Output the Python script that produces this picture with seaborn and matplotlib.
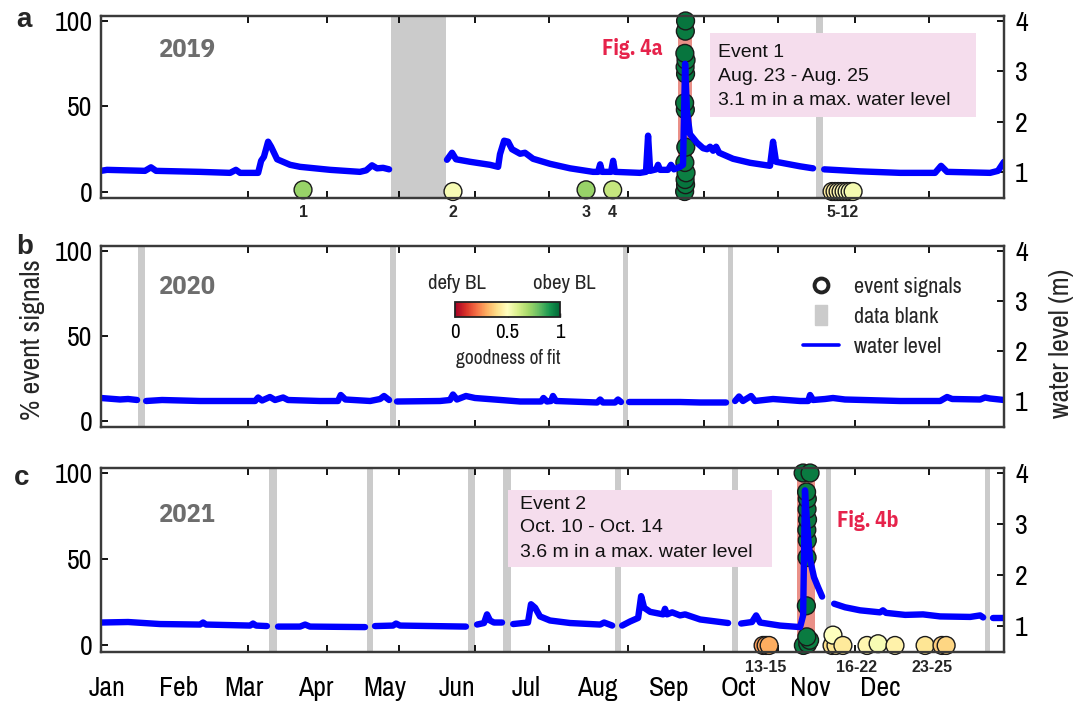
import numpy as np
import pandas as pd
import matplotlib
matplotlib.use("Agg")
import matplotlib.pyplot as plt
import seaborn as sns
from matplotlib.lines import Line2D
from matplotlib.patches import Rectangle
from matplotlib.cm import ScalarMappable
from matplotlib.colors import Normalize
from matplotlib import font_manager as fm
import matplotlib.transforms as mtransforms
import logging

logging.getLogger("matplotlib.font_manager").setLevel(logging.ERROR)
nan = np.nan

# ---------------- data ----------------
months = ["Jan", "Feb", "Mar", "Apr", "May", "Jun", "Jul", "Aug", "Sep", "Oct", "Nov", "Dec"]
month_days = [0, 31, 59, 90, 120, 151, 181, 212, 243, 273, 304, 334]
tick_days = [31, 61, 95, 126, 159, 191, 225, 258, 290, 323, 355]
years = ["2019", "2020", "2021"]

# water level (m); NaN marks a break in the record
wl2019_day = [-2.6, 0, 16.4, 19.0, 21.2, 40.2, 53.2, 55.7, 57.5, 65.3, 66.6, 67.8, 69.6, 70.9, 73.5, 79.1,
              83.4, 96.4, 109.3, 112.0, 114.5, 116.7, 119.3, 121.9, nan,
              146.9, 149.1, 150.8, 156.9, 165.5, 169.0, 169.8, 171.6, 173.3, 175.0, 178.5, 180.6, 184.1,
              191.4, 200.1, 210.0, 212.2, 213.1, 213.9, 217.8, 218.7, 219.5, 230.3, 232.9, 233.8, 234.7,
              237.3, 238.1, 239.0, 242.4, 243.7, 245.0, 247.6, 248.9, 249.8, 250.6, 251.9, 254.9, 257.6,
              259.3, 260.6, 261.9, 263.2, 264.5, 270.5, 277.9, 286.5, 287.8, 289.1, 299.5, 305.1, nan,
              309.9, 325.4, 342.7, 357.8, 360.4, 363.0, 381.6, 385.0, 387.6]
wl2019_m = [1.02, 1.04, 1.02, 1.09, 1.02, 1.0, 0.98, 1.04, 0.98, 0.98, 1.22, 1.3, 1.6, 1.5, 1.25, 1.14,
            1.1, 1.04, 1.0, 1.03, 1.13, 1.07, 1.08, 1.05, nan,
            1.24, 1.38, 1.25, 1.2, 1.14, 1.1, 1.35, 1.62, 1.6, 1.45, 1.36, 1.38, 1.26,
            1.16, 1.07, 1.0, 1.0, 1.15, 1.0, 1.0, 1.22, 1.0, 0.98, 1.0, 1.72, 1.02,
            1.05, 1.14, 1.04, 1.04, 1.14, 1.05, 1.1, 1.14, 3.15, 2.2, 1.75, 1.58, 1.47,
            1.45, 1.5, 1.42, 1.5, 1.38, 1.26, 1.18, 1.12, 1.6, 1.2, 1.11, 1.07, nan,
            1.05, 1.01, 0.98, 0.98, 1.12, 1.0, 0.98, 1.02, 1.2]

wl2020_day = [-2.6, 5.6, 9.1, 13.0, nan,
              16.9, 23.8, 40.2, 64.0, 65.3, 67.0, 70.4, 72.6, 76.1, 78.2, 92.0, 99.8, 101.0, 103.0, 113.7,
              118.0, 119.7, 121.9, nan,
              125.3, 143.9, 148.2, 149.5, 151.2, 155.1, 159.0, 178.5, 187.6, 188.6, 190.1, 191.9, 192.7,
              194.0, 211.8, 213.1, 214.3, 219.5, 220.8, 222.1, nan,
              225.6, 239.0, 247.6, 256.3, 267.5, nan,
              271.4, 273.1, 274.8, 278.3, 280.0, 287.8, 299.5, 303.0, 303.8, 305.1, 310.3, 313.7, 318.9,
              342.7, 360.0, 363.0, 365.2, 377.3, 379.4, 381.6, 387.6]
wl2020_m = [1.06, 1.03, 1.04, 1.02, nan,
            1.0, 1.02, 1.0, 1.0, 1.07, 1.01, 1.08, 1.02, 1.07, 1.02, 1.0, 1.0, 1.12, 1.03, 1.0,
            1.04, 1.1, 1.02, nan,
            0.99, 1.0, 1.02, 1.13, 1.03, 1.1, 1.06, 0.99, 0.99, 1.06, 0.99, 1.0, 1.1,
            1.0, 0.97, 1.03, 0.97, 0.97, 1.03, 0.98, nan,
            0.98, 0.98, 0.98, 0.97, 0.97, nan,
            1.0, 1.09, 1.0, 1.1, 1.0, 1.04, 1.0, 1.0, 1.12, 1.02, 1.04, 1.06, 1.03,
            1.0, 1.0, 1.08, 1.04, 1.03, 1.07, 1.05, 1.02]

wl2021_day = [-2.6, 9.1, 22.9, 40.2, 41.5, 42.8, 61.8, 63.1, 64.4, 69.1, nan,
              73.9, 83.4, 85.6, 87.7, 111.5, nan,
              115.8, 123.6, 124.9, 126.6, 155.1, nan,
              159.9, 162.9, 164.2, 165.5, 167.2, 170.7, nan,
              175.5, 181.9, 183.2, 185.0, 187.1, 191.4, 200.1, 213.1, 214.8, 218.3, nan,
              222.6, 226.0, 229.5, 230.8, 232.1, 234.7, 240.3, 241.1, 242.0, 244.2, 247.6, 249.8, 256.3,
              268.4, nan,
              274.0, 278.7, 280.5, 282.2, 290.8, 299.5, 300.8, 301.6, 302.5, 303.8, 305.5, 307.3, 309.0, nan,
              314.2, 318.9, 325.4, 334.0, 335.3, 336.6, 344.9, 352.6, 360.0, 373.0, 377.3, 378.6, nan,
              382.9, 387.6]
wl2021_m = [1.06, 1.07, 1.03, 1.02, 1.06, 1.02, 1.0, 1.04, 1.0, 0.99, nan,
            0.98, 0.98, 1.02, 0.98, 0.97, nan,
            0.99, 1.0, 1.04, 1.0, 0.98, nan,
            1.02, 1.05, 1.22, 1.1, 1.06, 1.06, nan,
            1.03, 1.06, 1.42, 1.35, 1.18, 1.1, 1.05, 1.02, 1.06, 1.0, nan,
            1.0, 1.08, 1.15, 1.58, 1.35, 1.27, 1.22, 1.33, 1.22, 1.26, 1.2, 1.22, 1.12,
            1.05, nan,
            1.04, 1.07, 1.2, 1.06, 1.0, 0.97, 1.2, 3.66, 3.0, 2.3, 1.95, 1.75, 1.57, nan,
            1.43, 1.36, 1.3, 1.26, 1.3, 1.25, 1.21, 1.22, 1.18, 1.17, 1.2, 1.16, nan,
            1.14, 1.14]

# data blanks (start, end day)
blank2019_start = [122.7, 306.4]
blank2019_end = [146.5, 309.4]
blank2020_start = [13.4, 122.3, 223.0, 268.4]
blank2020_end = [16.4, 124.9, 225.2, 270.5]
blank2021_start = [70.0, 112.4, 156.0, 171.1, 219.5, 270.1, 310.7, 379.4]
blank2021_end = [73.5, 115.0, 159.0, 174.6, 222.1, 272.7, 312.9, 381.6]

# flood events (highlighted)
event2019 = [246.8, 252.8]
event2021 = [298.2, 306.0]

# event signals: day, % event signals, goodness of fit
sig2019_day = [84.7, 149.5, 207.0, 218.5, 313.3, 314.6, 315.9, 317.2, 318.5, 319.8, 321.1, 322.4,
               249.6, 250.0, 249.8, 250.2, 249.7, 250.1, 249.9, 249.6, 250.0, 249.8, 250.2, 249.7, 249.9, 250.0]
sig2019_pct = [1, 0, 1, 1, 0, 0, 0, 0, 0, 0, 0, 0,
               0, 4, 7, 11, 17, 26, 48, 52, 69, 73, 77, 81, 94, 100]
sig2019_fit = [0.72, 0.52, 0.72, 0.64, 0.44, 0.45, 0.46, 0.47, 0.48, 0.5, 0.51, 0.53,
               0.97, 0.96, 0.97, 0.95, 0.96, 0.97, 0.95, 0.96, 0.97, 0.96, 0.95, 0.97, 0.96, 0.97]

sig2021_day = [283.5, 284.8, 286.1, 313.3, 315.0, 313.7, 318.0, 328.4, 333.2, 340.5, 353.5, 360.8, 362.6,
               300.9, 302.8, 303.6, 302.4, 302.2, 302.5, 302.6, 302.4, 302.7, 302.5, 302.6, 302.3, 300.8, 303.8]
sig2021_pct = [0, 0, 0, 0, 0, 6, 0, 0, 1, 0, 0, 0, 0,
               0, 1, 3, 5, 23, 51, 61, 67, 73, 79, 85, 89, 100, 100]
sig2021_fit = [0.27, 0.29, 0.3, 0.40, 0.42, 0.5, 0.43, 0.47, 0.52, 0.46, 0.42, 0.36, 0.38,
               0.96, 0.97, 0.95, 0.96, 0.97, 0.96, 0.95, 0.97, 0.96, 0.97, 0.96, 0.95, 0.97, 0.96]

lab2019_text = ["1", "2", "3", "4", "5-12"]
lab2019_day = [84.7, 149.5, 207.0, 218.5, 318.0]
lab2021_text = ["13-15", "16-22", "23-25"]
lab2021_day = [284.8, 324.1, 356.5]

event1_text = ["Event 1", "Aug. 23 - Aug. 25", "3.1 m in a max. water level"]
event2_text = ["Event 2", "Oct. 10 - Oct. 14", "3.6 m in a max. water level"]

# ---------------- style ----------------
sns.set_theme(style="ticks")
installed = {f.name for f in fm.fontManager.ttflist}
narrow_pref = ["Liberation Sans Narrow", "Arial Narrow", "Arimo Narrow", "Archivo Narrow",
               "PT Sans Narrow", "Roboto Condensed", "IBM Plex Sans Condensed", "Liberation Sans"]
NARROW = [f for f in narrow_pref if f in installed][:1] + ["Liberation Sans", "DejaVu Sans"]
bold_pref = ["IBM Plex Sans Condensed", "Roboto Condensed", "Liberation Sans"]
BOLDNARROW = [f for f in bold_pref if f in installed][:1] + ["Liberation Sans", "DejaVu Sans"]
ARIAL = ["Liberation Sans", "DejaVu Sans"]
plt.rcParams["font.family"] = NARROW

W, H = 1085, 704
fig = plt.figure(figsize=(W / 100, H / 100), dpi=100)


def fpos(x, y):
    return x / W, 1 - y / H


SPINE = "#3a3a3a"
BLUE = "#0000ff"
GRAY = "#cbcbcb"
RED_BAR = "#ea9088"
PINK = "#f5dded"
FIGRED = "#e6234b"
YEARC = "#6d6d6d"

left, width = 101 / W, 903 / W
boxes = [(16, 198), (246, 427), (468, 652)]


def wl_frame(days, lvls):
    d = np.array(days, dtype=float)
    m = np.array(lvls, dtype=float)
    seg = np.cumsum(np.isnan(d))
    df = pd.DataFrame({"day": d, "level": m, "seg": seg})
    return df.dropna()


wl_sets = [(wl2019_day, wl2019_m), (wl2020_day, wl2020_m), (wl2021_day, wl2021_m)]
blank_sets = [(blank2019_start, blank2019_end), (blank2020_start, blank2020_end),
              (blank2021_start, blank2021_end)]

axes = []
for i, (top, bot) in enumerate(boxes):
    ax = fig.add_axes([left, 1 - bot / H, width, (bot - top) / H])
    ax2 = ax.twinx()
    axes.append((ax, ax2))

    ax.set_xlim(-2.6, 387.6)
    ax.set_ylim(-3.8, 102.9)
    ax2.set_ylim(0.48, 4.1)

    for s, e in zip(*blank_sets[i]):
        ax.axvspan(s, e, color=GRAY, lw=0, zorder=0)

    df = wl_frame(*wl_sets[i])
    sns.lineplot(data=df, x="day", y="level", units="seg", estimator=None, sort=False,
                 color=BLUE, lw=4.6, ax=ax2, legend=False,
                 solid_capstyle="round", solid_joinstyle="round")
    ax2.set_xlim(-2.6, 387.6)

    ax.set_yticks([0, 50, 100])
    ax.set_yticklabels(["0", "50", "100"])
    ax2.set_yticks([1, 2, 3, 4])
    ax2.set_yticklabels(["1", "2", "3", "4"])
    ax.tick_params(axis="y", direction="in", length=5, width=1.3, labelsize=20, pad=6,
                   left=True, right=False, colors="black")
    ax2.tick_params(axis="y", direction="in", length=5, width=1.3, labelsize=20, pad=8,
                    left=False, right=True, colors="black")
    ax.set_xticks(month_days)
    ax.set_xticklabels(months if i == 2 else [""] * 12)
    ax.set_xticks(tick_days, minor=True)
    ax.tick_params(axis="x", which="major", length=0, labelsize=20, pad=17, colors="black")
    ax.tick_params(axis="x", which="minor", direction="in", length=5, width=1.3,
                   top=True, bottom=True, color="black")
    for a in (ax, ax2):
        a.set_xlabel("")
        a.set_ylabel("")
        for sp in a.spines.values():
            sp.set_color(SPINE)
            sp.set_linewidth(1.6)

    ax.text(0.095, [0.813, 0.773, 0.745][i], years[i], transform=ax.transAxes, ha="center",
            va="center", fontsize=19, fontweight="bold", color=YEARC, family=BOLDNARROW)

ax_a, ax2_a = axes[0]
ax_b, ax2_b = axes[1]
ax_c, ax2_c = axes[2]

ax_a.axvspan(event2019[0], event2019[1], color=RED_BAR, lw=0, zorder=0.5)
ax_c.axvspan(event2021[0], event2021[1], color=RED_BAR, lw=0, zorder=0.5)

for ax, d, p, f in [(ax_a, sig2019_day, sig2019_pct, sig2019_fit),
                    (ax_c, sig2021_day, sig2021_pct, sig2021_fit)]:
    sdf = pd.DataFrame({"day": d, "pct": p, "fit": f})
    sns.scatterplot(data=sdf, x="day", y="pct", hue="fit", palette="RdYlGn", hue_norm=(0, 1),
                    s=165, edgecolor="#1a1a1a", linewidth=1.0, legend=False, ax=ax,
                    zorder=3, clip_on=False)
    ax.set_xlabel("")
    ax.set_ylabel("")

for ax, txts, days in [(ax_a, lab2019_text, lab2019_day), (ax_c, lab2021_text, lab2021_day)]:
    tr = mtransforms.blended_transform_factory(ax.transData, ax.transAxes)
    for t, d in zip(txts, days):
        ax.text(d, -0.082, t, transform=tr, ha="center", va="center", fontsize=11.5,
                fontweight="bold", family=ARIAL, clip_on=False)

for ax, lines, (x0, x1, y0, y1), tx, ty in [
        (ax_a, event1_text, (0.6744, 0.969, 0.445, 0.9066), 0.6833, [0.797, 0.665, 0.533]),
        (ax_c, event2_text, (0.4507, 0.7431, 0.462, 0.880), 0.464, [0.799, 0.674, 0.543])]:
    ax.add_patch(Rectangle((x0, y0), x1 - x0, y1 - y0, transform=ax.transAxes,
                           facecolor=PINK, edgecolor="none", zorder=0.6))
    for line, yy in zip(lines, ty):
        ax.text(tx, yy, line, transform=ax.transAxes, ha="left", va="center",
                fontsize=14, family=ARIAL, color="#111111", zorder=2)

ax_a.text(0.589, 0.824, "Fig. 4a", transform=ax_a.transAxes, ha="center", va="center",
          fontsize=15.5, fontweight="bold", color=FIGRED, family=BOLDNARROW)
ax_c.text(0.849, 0.717, "Fig. 4b", transform=ax_c.transAxes, ha="center", va="center",
          fontsize=15.5, fontweight="bold", color=FIGRED, family=BOLDNARROW)

# colorbar
cax = fig.add_axes([455 / W, 1 - 317 / H, 105 / W, 15 / H])
sm = ScalarMappable(norm=Normalize(0, 1), cmap="RdYlGn")
cb = fig.colorbar(sm, cax=cax, orientation="horizontal", ticks=[0, 0.5, 1])
cb.ax.set_xticklabels(["0", "0.5", "1"])
cb.ax.tick_params(labelsize=15, length=3, width=1, direction="in", pad=4, colors="black")
cb.outline.set_linewidth(1.3)
cb.outline.set_edgecolor("#222222")
fig.text(*fpos(457, 284), "defy BL", ha="center", va="center", fontsize=15)
fig.text(*fpos(564, 284), "obey BL", ha="center", va="center", fontsize=15)
fig.text(*fpos(508, 358), "goodness of fit", ha="center", va="center", fontsize=14)

# legend
h1 = Line2D([], [], ls="none", marker="o", ms=10, mfc="white", mec="#222222", mew=2.8)
rect = [(-0.6, -1), (0.6, -1), (0.6, 1), (-0.6, 1), (-0.6, -1)]
h2 = Line2D([], [], ls="none", marker=rect, ms=15, color=GRAY, mec=GRAY)
h3 = Line2D([], [], color=BLUE, lw=2.6)
ax2_b.legend([h1, h2, h3], ["event signals", "data blank", "water level"], loc="upper left",
             bbox_to_anchor=fpos(803, 277), bbox_transform=fig.transFigure, frameon=False,
             fontsize=16, handlelength=1.6, handletextpad=0.7, labelspacing=0.45,
             borderpad=0, borderaxespad=0)

fig.text(*fpos(33, 340), "% event signals", rotation=90, ha="center", va="center", fontsize=20)
fig.text(*fpos(1062, 343), "water level (m)", rotation=90, ha="center", va="center", fontsize=20)
for letter, (x, y) in zip(["a", "b", "c"], [(24, 20), (25, 247), (22, 478)]):
    fig.text(*fpos(x, y), letter, ha="center", va="center", fontsize=20, fontweight="bold",
             family=ARIAL)

fig.savefig("out.png", dpi=100)
